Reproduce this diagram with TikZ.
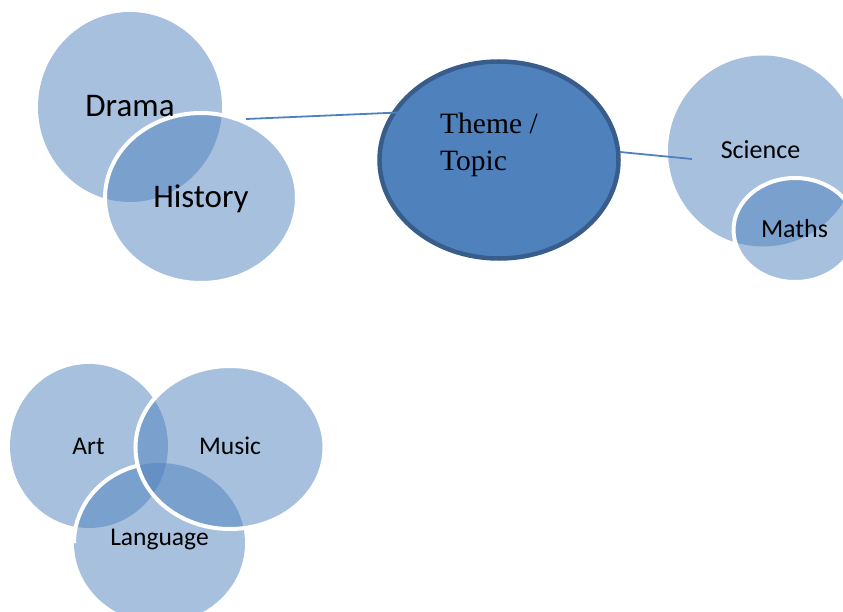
\documentclass[tikz,border=0pt]{standalone}
\usepackage{fontspec}
\setmainfont{Carlito}
\newfontfamily\serifface{Liberation Serif}
\usetikzlibrary{shapes.geometric}
\definecolor{accent}{HTML}{4F81BD}
\definecolor{accentdark}{HTML}{385D8A}

\begin{document}
\begin{tikzpicture}[x=1bp,y=-1bp,
  bubble/.style={ellipse, inner sep=0, outer sep=0, fill=accent, fill opacity=0.5},
  rim/.style={draw=white, line width=4bp},
  lbl/.style={anchor=base, inner sep=0, text=black},
  link/.style={draw=accent, line width=1.8bp}]
\useasboundingbox (0,0) rectangle (843,612);
\clip (0,0) rectangle (843,612);

% Drama / History pair
\node[bubble, minimum width=184bp, minimum height=190bp] (drama) at (130,107) {};
\node[bubble, rim, minimum width=192bp, minimum height=170bp] (history) at (201,198) {};

% central theme
\node[ellipse, inner sep=0, outer sep=0, fill=accent, draw=accentdark, line width=4.5bp,
      minimum width=239bp, minimum height=197bp] (theme) at (499,160) {};

% Science / Maths pair
\node[bubble, minimum width=190bp, minimum height=191bp] (science) at (763,151) {};
\node[bubble, rim, minimum width=123bp, minimum height=104bp] (maths) at (795,230) {};

% Art / Language / Music group
\node[bubble, minimum width=158bp, minimum height=164bp] (art) at (89,446) {};
\node[bubble, minimum width=171bp, minimum height=160bp] (language) at (159.5,543) {};
\draw[white, line width=4bp] (language.west)
  arc[start angle=180, end angle=255, x radius=85.5, y radius=80];
\node[bubble, rim, minimum width=189bp, minimum height=163bp] (music) at (230,447.5) {};

% connectors
\coordinate (hEnd) at (246,119);
\coordinate (tIn) at (410,112);
\coordinate (tOut) at (620,152);
\coordinate (sIn) at (692,159);
\draw[link] (hEnd) -- (tIn);
\draw[link] (tOut) -- (sIn);

% labels
\node[lbl, font=\fontsize{33bp}{40bp}\selectfont] (tDrama) at (130,117) {Drama};
\node[lbl, font=\fontsize{33bp}{40bp}\selectfont] (tHistory) at (201,208) {History};
\node[lbl, anchor=base west, font=\serifface\fontsize{29.5bp}{36bp}\selectfont] (tTheme) at (440,134) {Theme /};
\node[lbl, anchor=base west, font=\serifface\fontsize{29.5bp}{36bp}\selectfont] (tTopic) at (440,170.5) {Topic};
\node[lbl, font=\fontsize{26bp}{31bp}\selectfont] (tScience) at (760.5,159) {Science};
\node[lbl, font=\fontsize{26bp}{31bp}\selectfont] (tMaths) at (794.5,238) {Maths};
\node[lbl, font=\fontsize{25.5bp}{31bp}\selectfont] (tArt) at (88.5,454) {Art};
\node[lbl, font=\fontsize{25.5bp}{31bp}\selectfont] (tMusic) at (230,454) {Music};
\node[lbl, font=\fontsize{25.5bp}{31bp}\selectfont] (tLanguage) at (159.5,545) {Language};
\end{tikzpicture}
\end{document}
